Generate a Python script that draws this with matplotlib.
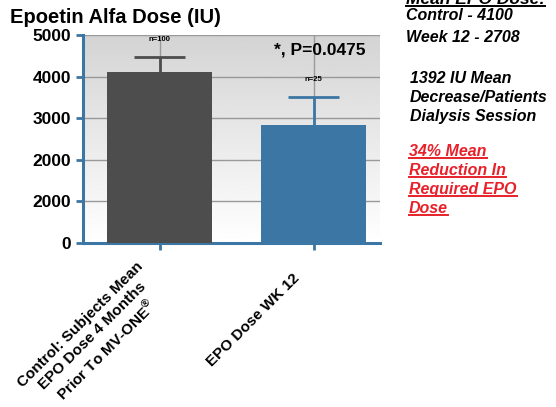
import numpy as np
import matplotlib
matplotlib.use('Agg')
from matplotlib import pyplot as plt
from matplotlib.lines import Line2D
from matplotlib.transforms import ScaledTranslation

plt.rcParams['font.family'] = ['Liberation Sans', 'DejaVu Sans']
plt.rcParams['mathtext.fontset'] = 'custom'
plt.rcParams['mathtext.rm'] = 'Liberation Sans:bold'

categories = ['Control: Subjects Mean\nEPO Dose 4 Months\nPrior To MV-ONE$^{\u00ae}$', 'EPO Dose WK 12']
means = [4110, 2840]
err_up = [360, 670]
n_labels = ['n=100', 'n=25']
bar_colors = ['#4d4d4d', '#3b76a4']
yticks = [0, 1000, 2000, 3000, 4000, 5000]
ytick_labels = ['0', '2000', '2000', '3000', '4000', '5000']

blue = '#3b76a4'
red = '#e8202a'

fig = plt.figure(figsize=(5.56, 4.07), dpi=100)
ax = fig.add_axes([0.149, 0.403, 0.534, 0.511])

# grey gradient background, darker at top
grad = np.linspace(0.83, 1.0, 256).reshape(-1, 1)
ax.imshow(grad, cmap='gray', vmin=0, vmax=1, aspect='auto', origin='upper',
          extent=[-0.5, 1.43, 0, 5000], zorder=0)

x = np.arange(len(means))
ax.bar(x, means, width=0.68, color=bar_colors, zorder=3)
tops = np.array(means) + np.array(err_up)
ax.vlines(x, means, tops, colors=bar_colors, linewidth=2, zorder=4)
ax.hlines(tops, x - 0.165, x + 0.165, colors=bar_colors, linewidth=2, zorder=4)
for i in range(len(means)):
    ax.text(x[i], tops[i] + 330, n_labels[i], ha='center', va='bottom',
            fontsize=5.5, fontweight='bold', zorder=5)

ax.text(0.745, 4820, '*, P=0.0475', ha='left', va='top', fontsize=12.5, fontweight='bold', zorder=5)

ax.set_xlim(-0.5, 1.43)
ax.set_ylim(0, 5000)
ax.set_yticks(yticks)
ax.set_yticklabels(ytick_labels, fontsize=12.5, fontweight='bold')
ax.set_xticks(x)
ax.set_xticklabels(categories, rotation=45, ha='right', rotation_mode='anchor',
                   fontsize=11, fontweight='bold', multialignment='center', linespacing=1.25)
ax.grid(True, color='#999999', linewidth=1, zorder=1)
ax.set_axisbelow(True)
for s in ['top', 'right']:
    ax.spines[s].set_visible(False)
for s in ['left', 'bottom']:
    ax.spines[s].set_color(blue)
    ax.spines[s].set_linewidth(2.2)
ax.tick_params(axis='both', colors=blue, width=2, length=5, labelcolor='black')
ax.tick_params(axis='x', pad=5)

# nudge the rotated labels like the original
offsets = [(-24, -2), (-21, -14)]
for lab, (dx, dy) in zip(ax.get_xticklabels(), offsets):
    lab.set_transform(lab.get_transform() + ScaledTranslation(dx / 100, dy / 100, fig.dpi_scale_trans))

fig.text(0.018, 0.958, 'Epoetin Alfa Dose (IU)', fontsize=14.5, fontweight='bold', va='center')

t0 = fig.text(0.73, 1.0, 'Mean EPO Dose:', fontsize=12.5, fontweight='bold', style='italic', va='center')
fig.text(0.73, 0.963, 'Control - 4100', fontsize=11.5, fontweight='bold', style='italic', va='center')
fig.text(0.73, 0.909, 'Week 12 - 2708', fontsize=11.5, fontweight='bold', style='italic', va='center')
info = ['1392 IU Mean', 'Decrease/Patients', 'Dialysis Session']
for i, s in enumerate(info):
    fig.text(0.737, 0.808 - i * 0.0467, s, fontsize=11.5, fontweight='bold', style='italic', va='center')
red_lines = ['34% Mean', 'Reduction In', 'Required EPO', 'Dose']
underlined = [t0]
for i, s in enumerate(red_lines):
    t = fig.text(0.736, 0.627 - i * 0.0467, s, fontsize=11.5, fontweight='bold', style='italic',
                 color=red, va='center')
    underlined.append(t)

fig.canvas.draw()
r = fig.canvas.get_renderer()
inv = fig.transFigure.inverted()
for t in underlined:
    bb = t.get_window_extent(r)
    (x0, y0), (x1, y1) = inv.transform([(bb.x0, bb.y0), (bb.x1, bb.y1)])
    fig.add_artist(Line2D([x0, x1], [y0 + 0.003, y0 + 0.003], color=t.get_color(), linewidth=1.4,
                          transform=fig.transFigure))

fig.savefig('out.png', dpi=100)
